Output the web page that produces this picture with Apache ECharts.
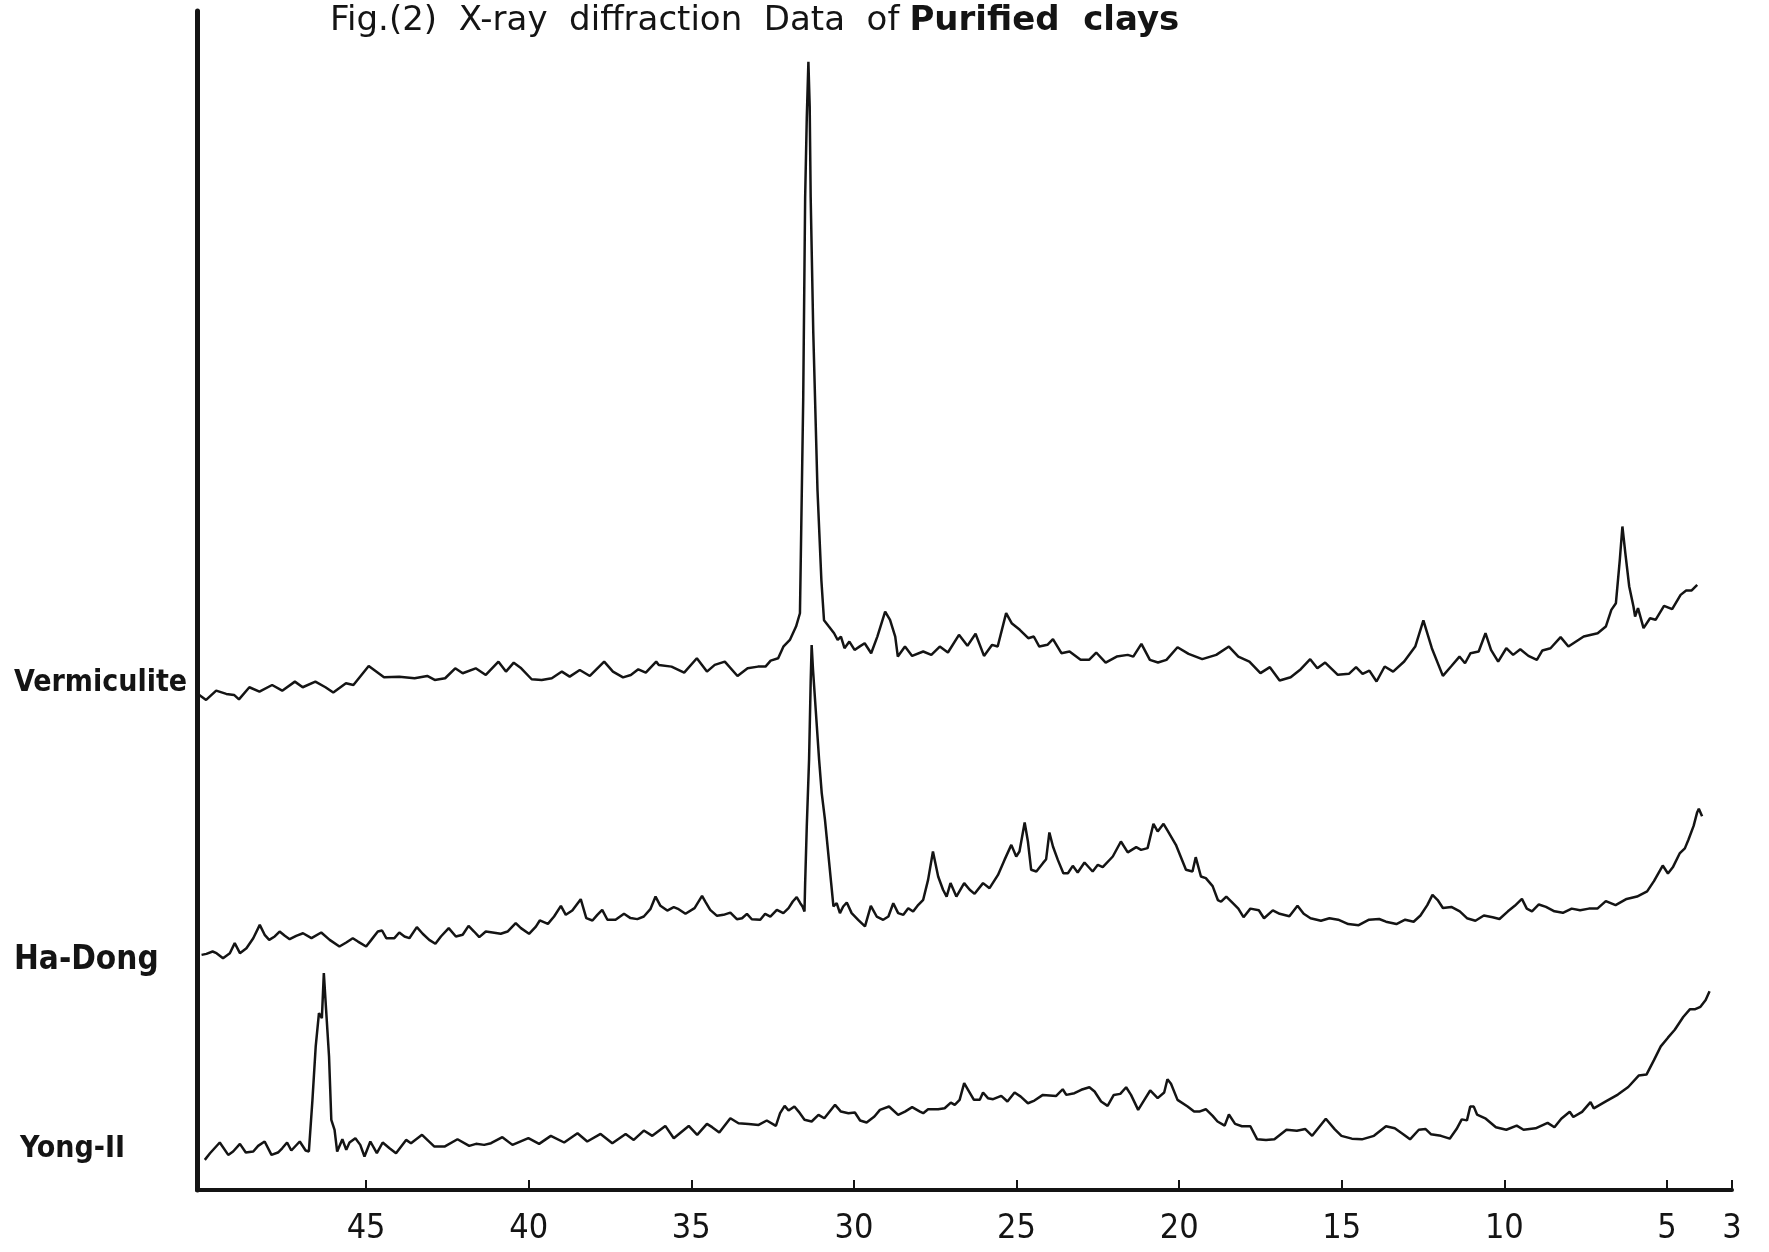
<!DOCTYPE html>
<html>
<head>
<meta charset="utf-8">
<title>Fig.(2) X-ray diffraction Data of Purified clays</title>
<script src="https://cdn.jsdelivr.net/npm/echarts@6/dist/echarts.min.js"></script>
<style>
  html, body { margin: 0; padding: 0; background: #fff; }
  #chart { width: 1769px; height: 1252px; }
</style>
</head>
<body>
<div id="chart"></div>
<script>
// 2-theta tick labels
var tickValues = [45, 40, 35, 30, 25, 20, 15, 10, 5, 3];

// Vermiculite trace (2-theta, relative intensity incl. offset)
var vermTheta = [50.13,49.92,49.61,49.30,49.06,48.91,48.59,48.28,47.89,47.58,47.19,46.95,46.56,46.25,46.01,45.62,45.39,44.92,44.45,43.98,43.51,43.12,42.89,42.57,42.26,42.03,41.63,41.32,40.93,40.70,40.46,40.23,39.91,39.60,39.29,38.98,38.74,38.43,38.12,37.68,37.41,37.10,36.86,36.63,36.40,36.08,36.00,35.61,35.22,34.83,34.52,34.28,33.97,33.58,33.27,32.95,32.72,32.56,32.33,32.17,31.97,31.78,31.66,31.56,31.50,31.45,31.40,31.36,31.33,31.25,31.12,31.00,30.92,30.77,30.61,30.50,30.40,30.29,30.14,29.98,29.83,29.67,29.47,29.28,29.04,28.89,28.73,28.65,28.43,28.21,27.87,27.62,27.36,27.11,26.77,26.51,26.26,26.00,25.75,25.58,25.32,25.15,24.90,24.64,24.47,24.30,24.05,23.88,23.62,23.37,23.03,22.77,22.55,22.26,21.92,21.58,21.41,21.16,20.90,20.65,20.39,20.05,19.71,19.29,18.86,18.47,18.18,17.84,17.50,17.21,16.91,16.57,16.26,15.97,15.75,15.51,15.12,14.78,14.56,14.36,14.15,13.93,13.68,13.42,13.08,12.74,12.49,12.23,11.89,11.64,11.38,11.21,11.04,10.79,10.58,10.41,10.19,9.94,9.73,9.51,9.26,9.00,8.83,8.58,8.27,8.03,7.56,7.13,6.88,6.71,6.57,6.45,6.37,6.28,6.16,6.03,5.98,5.89,5.72,5.52,5.35,5.09,4.84,4.58,4.41,4.24,4.07];
var vermInt = [438.8,434.4,442.6,439.7,438.8,434.9,445.6,441.7,447.6,442.6,450.6,445.6,450.6,445.6,440.9,449.1,447.6,464.5,454.4,455.0,453.6,455.6,452.1,453.6,462.4,458.0,462.4,456.5,468.3,459.5,467.4,462.4,452.7,452.1,453.6,459.5,455.0,460.9,455.6,468.3,459.5,454.4,456.5,461.5,458.6,468.3,465.4,463.9,458.6,471.3,459.5,465.4,468.3,455.6,462.4,463.9,463.9,469.2,471.3,481.6,487.5,499.4,511.2,700,880,950,1000,960,880,760,620,540,505,499.4,493.5,487.5,490.5,480.2,486.1,478.7,481.6,484.6,475.7,490.5,512.7,505.3,490.5,472.8,481.7,473.4,477.3,474.3,481.7,476.4,492.1,482.3,493.0,473.4,483.2,481.7,511.3,502.4,496.5,489.1,490.6,481.7,483.2,488.2,475.8,477.3,469.9,469.9,476.4,467.5,472.8,474.3,472.8,484.1,469.9,467.5,469.9,481.1,475.2,470.5,474.3,481.7,472.8,468.4,458.1,463.4,451.6,454.5,461.6,470.5,462.5,467.5,456.6,457.5,463.4,457.5,460.4,450.7,464.0,459.5,468.4,481.7,504.8,480.2,455.7,464.0,472.8,466.9,475.8,477.3,493.5,478.8,468.4,480.2,474.3,479.3,473.4,469.9,478.2,480.2,490.0,481.7,490.6,493.5,499.4,514.2,520.1,558.5,588.1,564.5,534.9,517.2,508.3,515.7,498.0,506.8,505.4,517.8,514.8,527.5,531.4,531.4,536.4];

// Ha-Dong trace
var hadongTheta = [50.06,49.91,49.72,49.60,49.40,49.19,49.04,48.88,48.68,48.47,48.27,48.12,47.98,47.81,47.66,47.50,47.35,47.15,46.94,46.68,46.38,46.12,45.82,45.61,45.41,45.25,45.00,44.84,44.64,44.51,44.38,44.13,43.98,43.82,43.67,43.44,43.26,43.06,42.87,42.70,42.46,42.24,42.03,41.85,41.68,41.52,41.32,41.11,40.86,40.65,40.40,40.24,39.99,39.78,39.66,39.41,39.22,39.01,38.86,38.66,38.40,38.23,38.04,37.89,37.74,37.58,37.33,37.07,36.87,36.66,36.46,36.26,36.10,35.95,35.74,35.54,35.39,35.18,34.90,34.67,34.57,34.42,34.21,34.01,33.80,33.60,33.44,33.29,33.14,32.88,32.73,32.57,32.37,32.17,32.01,31.88,31.76,31.65,31.58,31.52,31.50,31.45,31.38,31.33,31.30,31.26,31.07,30.99,30.89,30.79,30.70,30.63,30.53,30.43,30.33,30.22,30.07,29.87,29.66,29.48,29.30,29.10,28.94,28.79,28.64,28.48,28.33,28.18,28.02,27.87,27.72,27.57,27.41,27.26,27.15,27.03,26.85,26.61,26.44,26.29,26.03,25.83,25.57,25.37,25.16,25.01,24.91,24.75,24.65,24.55,24.39,24.19,24.09,23.99,23.88,23.73,23.56,23.42,23.27,23.12,22.91,22.66,22.50,22.35,22.04,21.79,21.58,21.32,21.17,20.97,20.79,20.66,20.48,20.36,20.10,19.79,19.59,19.49,19.33,19.18,18.97,18.81,18.71,18.55,18.34,18.18,18.02,17.81,17.55,17.39,17.12,16.91,16.61,16.36,16.17,15.96,15.64,15.38,15.11,14.80,14.48,14.16,13.85,13.64,13.32,13.05,12.79,12.58,12.37,12.21,12.05,11.89,11.63,11.37,11.15,10.89,10.63,10.36,10.15,9.89,9.68,9.46,9.31,9.15,8.94,8.72,8.46,8.20,7.93,7.67,7.40,7.14,6.88,6.58,6.24,5.92,5.61,5.40,5.13,4.97,4.82,4.61,4.45,4.34,4.18,4.07,4.02,3.92];
var hadongInt = [208.4,209.3,211.4,209.9,205.5,209.9,218.8,209.9,214.3,223.2,235.0,226.2,221.7,224.7,229.1,225.3,222.3,225.3,227.6,223.2,228.2,221.7,215.8,219.4,223.2,220.2,215.8,221.7,229.1,230.0,223.2,223.2,228.2,224.7,223.2,233.0,227.1,221.7,218.2,224.7,232.1,224.7,226.2,234.1,229.1,224.1,229.1,228.2,227.1,229.1,236.5,232.1,227.1,233.5,238.9,235.9,242.4,251.9,243.9,247.7,257.8,241.0,238.9,243.9,248.3,239.5,239.5,244.8,241.0,240.1,242.4,248.9,260.1,251.9,247.7,250.7,248.9,244.8,249.8,260.7,255.7,248.3,243.0,243.9,245.9,240.0,240.9,244.8,240.0,239.5,244.8,242.4,248.3,245.4,249.8,255.7,259.6,254.2,251.3,246.8,272.0,322.2,381,450,483,462,381,351.8,328.1,298.6,272.0,251.3,254.2,245.4,251.3,254.8,245.4,239.5,233.6,251.9,242.4,239.5,242.4,254.2,245.4,243.9,249.8,246.8,252.8,257.2,274.9,300.0,277.9,266.1,260.1,272.0,260.1,272.0,266.1,262.5,272.0,267.5,279.3,292.6,305.9,295.6,300.0,325.7,308.9,283.8,282.3,289.7,293.2,316.9,304.5,292.6,280.8,280.8,287.3,281.4,290.3,282.3,288.2,286.2,295.6,308.9,299.2,303.9,301.5,303.0,324.6,317.8,324.6,318.7,306.0,283.8,282.3,295.0,277.9,276.4,269.3,257.0,255.5,260.1,254.0,249.4,241.8,249.4,247.9,240.9,247.9,244.8,242.7,251.9,244.8,240.9,238.7,240.9,239.6,235.7,234.7,239.6,240.2,237.8,235.7,239.6,237.8,243.3,252.5,261.6,257.0,250.0,250.9,247.0,240.9,238.7,243.3,241.8,240.2,247.0,251.9,258.0,249.4,247.0,253.1,250.9,247.0,245.7,249.4,247.9,249.4,249.4,256.1,252.5,258.0,260.1,264.7,273.8,287.6,280.5,286.0,298.3,302.8,310.5,322.7,334.9,338.0,331.2];

// Yong-II trace
var yongTheta = [49.96,49.80,49.50,49.24,49.09,48.88,48.70,48.47,48.32,48.12,47.91,47.71,47.58,47.43,47.30,47.04,46.86,46.76,46.65,46.55,46.45,46.36,46.30,46.23,46.14,46.07,45.97,45.89,45.73,45.61,45.51,45.33,45.18,45.05,44.87,44.67,44.49,44.28,44.08,43.77,43.62,43.28,42.90,42.59,42.19,41.83,41.62,41.37,41.16,40.81,40.50,40.01,39.68,39.32,38.91,38.50,38.20,37.79,37.43,37.02,36.77,36.46,36.20,35.80,35.54,35.08,34.82,34.52,34.36,34.14,33.80,33.55,33.24,32.93,32.68,32.40,32.27,32.13,32.01,31.83,31.70,31.52,31.30,31.09,30.91,30.58,30.40,30.17,29.97,29.81,29.61,29.37,29.20,28.92,28.64,28.43,28.21,27.97,27.87,27.72,27.41,27.21,27.02,26.90,26.75,26.61,26.49,26.31,26.13,26.03,25.88,25.72,25.47,25.28,25.06,24.87,24.65,24.45,24.19,23.78,23.58,23.47,23.22,23.01,22.76,22.60,22.40,22.20,22.01,21.81,21.63,21.48,21.26,21.07,20.89,20.66,20.46,20.36,20.25,20.05,19.74,19.54,19.38,19.18,18.97,18.82,18.60,18.47,18.28,18.07,17.81,17.60,17.33,17.07,16.70,16.38,16.12,15.91,15.70,15.49,15.22,15.01,14.69,14.38,14.01,13.64,13.37,13.11,12.90,12.63,12.42,12.26,11.95,11.68,11.47,11.31,11.15,11.05,10.94,10.84,10.57,10.26,9.94,9.62,9.41,9.04,8.67,8.46,8.25,7.99,7.88,7.61,7.35,7.25,6.88,6.51,6.19,5.87,5.63,5.40,5.19,4.97,4.76,4.50,4.29,4.13,3.97,3.81,3.69];
var yongInt = [26.7,32.6,42.1,31.1,34.1,40.9,33.2,34.1,39.1,43.0,31.1,33.2,37.0,42.1,35.0,43.0,35.0,34.1,79.9,127.2,156.7,152.3,192.2,159.7,118.3,62.2,53.3,34.1,45.0,35.6,42.1,45.9,40.0,29.7,43.0,32.6,42.1,37.0,32.6,44.4,41.5,48.9,38.5,38.5,45.0,39.1,40.9,40.0,41.5,46.8,40.0,45.9,40.9,48.0,42.1,50.3,43.0,49.7,41.5,49.7,44.4,52.7,48.0,56.8,45.9,56.8,48.9,58.6,55.7,50.9,63.6,59.2,58.6,57.7,61.6,56.8,68.1,74.6,70.4,74.0,69.5,62.2,60.7,66.6,63.6,75.5,69.5,68.1,68.7,61.6,59.8,65.1,71.0,74.0,66.6,69.5,73.4,69.5,68.1,71.6,71.6,72.5,77.5,75.5,79.9,94.7,88.8,79.9,79.9,86.4,81.4,80.5,83.4,78.4,86.4,82.8,76.9,79.3,84.3,83.4,89.3,84.3,85.8,88.8,91.1,87.3,78.4,74.6,84.3,85.2,91.1,84.3,71.0,79.9,88.2,81.4,86.4,98.2,94.1,79.9,74.0,69.5,69.5,71.6,65.7,60.7,57.1,66.9,58.6,56.5,56.5,44.9,44.3,44.9,53.4,52.5,54.0,48.0,55.6,63.2,54.0,48.0,45.5,44.9,48.0,56.5,54.7,49.5,44.9,53.4,54.0,49.5,48.0,45.5,54.0,62.6,61.7,73.9,73.9,66.9,63.2,55.6,53.4,57.1,53.4,54.7,59.5,55.6,63.2,69.3,64.7,69.3,77.9,72.4,78.5,84.6,91.3,101.4,102.3,115.1,127.3,135.0,142.0,153.3,160.3,160.3,162.4,168.5,176.2];

var sampleNames = ['Vermiculite', 'Ha-Dong', 'Yong-II'];

function zip(xs, ys) {
    var out = [];
    for (var i = 0; i < xs.length; i++) out.push([xs[i], ys[i]]);
    return out;
}

var FONT = '"DejaVu Sans Condensed", "Liberation Sans Narrow", "DejaVu Sans", sans-serif';
var WIDE = '"DejaVu Sans", sans-serif';
var INK = '#141414';

var chart = echarts.init(document.getElementById('chart'));

function trace(name, data) {
    return {
        name: name,
        type: 'line',
        data: data,
        showSymbol: false,
        symbol: 'none',
        lineStyle: { color: INK, width: 2.5 },
        silent: true
    };
}

var option = {
    animation: false,
    backgroundColor: '#fff',
    title: {
        text: '{n|Fig.(2)  X-ray  diffraction  Data  of}  {b|Purified  clays}',
        left: 330,
        top: 4,
        padding: 0,
        textStyle: {
            fontWeight: 'normal',
            rich: {
                n: { fontFamily: WIDE, fontSize: 34, fontWeight: 'normal', color: INK },
                b: { fontFamily: WIDE, fontSize: 34, fontWeight: 'bold', color: INK }
            }
        }
    },
    grid: { left: 197, right: 37, top: 11, bottom: 62 },
    xAxis: {
        type: 'value',
        min: 3.0,
        max: 50.2,
        inverse: true,
        axisLine: { show: true, lineStyle: { color: INK, width: 4 } },
        axisTick: {
            show: true,
            inside: true,
            length: 10,
            customValues: tickValues,
            lineStyle: { color: INK, width: 2 }
        },
        axisLabel: {
            customValues: tickValues,
            margin: 22,
            fontFamily: FONT,
            fontSize: 34,
            color: INK
        },
        splitLine: { show: false }
    },
    yAxis: {
        type: 'value',
        min: 0,
        max: 1045,
        axisLine: { show: true, lineStyle: { color: INK, width: 5 } },
        axisTick: { show: false },
        axisLabel: { show: false },
        splitLine: { show: false }
    },
    graphic: [
        { type: 'text', left: 14, top: 668, style: { text: sampleNames[0], font: 'bold 30px ' + FONT, fill: INK } },
        { type: 'text', left: 14, top: 944, style: { text: sampleNames[1], font: 'bold 33px ' + FONT, fill: INK } },
        { type: 'text', left: 20, top: 1134, style: { text: sampleNames[2], font: 'bold 30px ' + FONT, fill: INK } }
    ],
    series: [
        trace(sampleNames[0], zip(vermTheta, vermInt)),
        trace(sampleNames[1], zip(hadongTheta, hadongInt)),
        trace(sampleNames[2], zip(yongTheta, yongInt))
    ]
};

chart.setOption(option);
</script>
</body>
</html>
